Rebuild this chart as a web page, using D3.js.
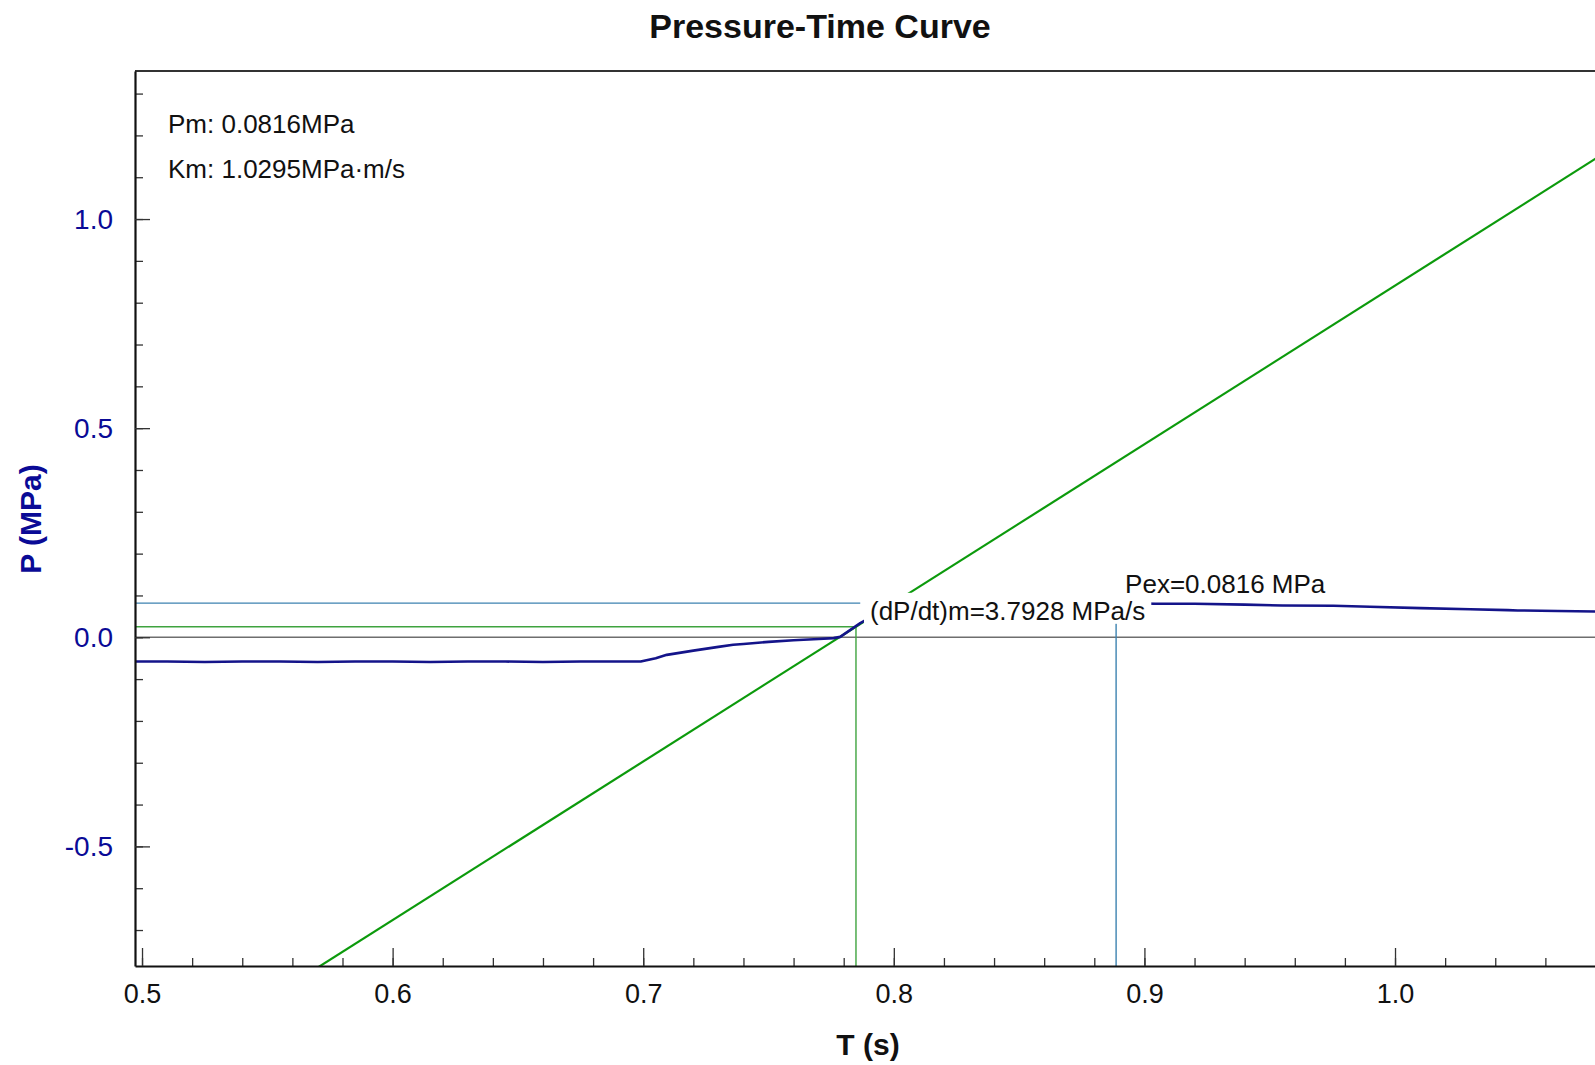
<!DOCTYPE html>
<html lang="en">
<head>
    <meta charset="UTF-8">
    <title>Pressure-Time Curve</title>
    <script src="https://d3js.org/d3.v7.min.js"></script>
    <style>
        body {
            margin: 0;
            background: #fff;
            font-family: "Liberation Sans", Arial, sans-serif;
        }
        svg {
            display: block;
        }
    </style>
</head>
<body>
    <svg width="1595" height="1065"></svg>

    <script>
        // pressure trace (time in s, pressure in MPa)
        const timeS = [0.4972, 0.51, 0.525, 0.54, 0.555, 0.57, 0.585, 0.60, 0.615, 0.63, 0.645, 0.66, 0.675, 0.69,
            0.699, 0.705, 0.7094, 0.72, 0.73, 0.7359, 0.74, 0.75, 0.76, 0.77, 0.776, 0.7786, 0.7866,
            0.79, 0.80, 0.82, 0.85, 0.8887, 0.9044, 0.92, 0.94, 0.955, 0.9755, 0.99, 1.0102, 1.03, 1.045, 1.049, 1.065, 1.0802];
        const pressureMPa = [-0.058, -0.058, -0.059, -0.058, -0.058, -0.059, -0.058, -0.058, -0.059, -0.058, -0.058, -0.059, -0.058, -0.058,
            -0.058, -0.050, -0.042, -0.032, -0.023, -0.018, -0.016, -0.011, -0.007, -0.004, -0.002, 0.001, 0.034,
            0.045, 0.065, 0.076, 0.080, 0.0816, 0.0801, 0.080, 0.078, 0.076, 0.0753, 0.073, 0.0698, 0.067, 0.065, 0.0641, 0.063, 0.0617];

        // tangent / maximum markers
        const tangentT = 0.7849, tangentP = 0.025, tangentSlope = 3.7928;
        const pexT = 0.8887, pexP = 0.0816, pexLineEndT = 0.7866;

        const xTicksMajor = [0.5, 0.6, 0.7, 0.8, 0.9, 1.0];
        const xTicksMinor = d3.range(25, 55).map(d => d * 0.02);
        const yTicksMajor = [-0.5, 0.0, 0.5, 1.0];
        const yTicksMinor = d3.range(-7, 14).map(d => d * 0.1);

        const infoLines = ["Pm: 0.0816MPa", "Km: 1.0295MPa\u00b7m/s"];
        const slopeLabel = "(dP/dt)m=3.7928 MPa/s";
        const pexLabel = "Pex=0.0816 MPa";

        const svg = d3.select("svg");
        const font = '"Liberation Sans", Arial, sans-serif';
        const fmt = d => d.toFixed(1);

        const plot = { left: 135, right: 1596, top: 71, bottom: 966 };

        const x = d3.scaleLinear().domain([0.4972, 1.0802]).range([plot.left, plot.right]);
        const y = d3.scaleLinear().domain([-0.786, 1.354]).range([plot.bottom, plot.top]);

        svg.append("defs").append("clipPath").attr("id", "clip")
            .append("rect")
            .attr("x", plot.left).attr("y", plot.top)
            .attr("width", plot.right - plot.left).attr("height", plot.bottom - plot.top);

        const g = svg.append("g").attr("clip-path", "url(#clip)");
        const [t0, t1] = x.domain();
        const [p0] = y.domain();

        // zero line
        g.append("line")
            .attr("x1", x(t0)).attr("x2", x(t1))
            .attr("y1", y(0)).attr("y2", y(0))
            .attr("stroke", "#6e6e6e").attr("stroke-width", 1.5);

        // marker lines
        const thin = (x1, y1, x2, y2, color) => g.append("line")
            .attr("x1", x1).attr("y1", y1).attr("x2", x2).attr("y2", y2)
            .attr("stroke", color).attr("stroke-width", 1.4);

        thin(x(t0), y(pexP), x(pexLineEndT), y(pexP), "#3c82b0");
        thin(x(pexT), y(pexP), x(pexT), y(p0), "#3c82b0");
        thin(x(t0), y(tangentP), x(tangentT), y(tangentP), "#3fa33f");
        thin(x(tangentT), y(tangentP), x(tangentT), y(p0), "#3fa33f");

        // tangent line
        const tangentAt = t => tangentP + tangentSlope * (t - tangentT);
        g.append("line")
            .attr("x1", x(0.5)).attr("y1", y(tangentAt(0.5)))
            .attr("x2", x(t1)).attr("y2", y(tangentAt(t1)))
            .attr("stroke", "#0c9a0c").attr("stroke-width", 2.2);

        // pressure curve
        const data = timeS.map((t, i) => [t, pressureMPa[i]]);
        g.append("path")
            .datum(data)
            .attr("fill", "none")
            .attr("stroke", "#14148a")
            .attr("stroke-width", 2.6)
            .attr("stroke-linejoin", "round")
            .attr("d", d3.line().x(d => x(d[0])).y(d => y(d[1])));

        // labels with white background
        function boxedLabel(text, xPos, yPos, padTop, padBottom) {
            const lg = svg.append("g");
            const bg = lg.append("rect").attr("fill", "#fff");
            const t = lg.append("text")
                .attr("x", xPos).attr("y", yPos)
                .attr("font-family", font).attr("font-size", 26)
                .attr("fill", "#111")
                .text(text);
            const bb = t.node().getBBox();
            bg.attr("x", bb.x - 6).attr("y", bb.y - padTop)
                .attr("width", bb.width + 12).attr("height", bb.height + padTop + padBottom);
        }
        boxedLabel(slopeLabel, x(tangentT) + 14, y(tangentP) - 7, 3, -2);
        boxedLabel(pexLabel, x(pexT) + 9, y(pexP) - 10, -2, -4);

        // info text
        svg.selectAll(".info")
            .data(infoLines)
            .enter().append("text")
            .attr("class", "info")
            .attr("x", 168)
            .attr("y", (d, i) => 133 + i * 45)
            .attr("font-family", font).attr("font-size", 26)
            .attr("fill", "#111")
            .text(d => d);

        // frame top
        svg.append("line")
            .attr("x1", plot.left).attr("x2", plot.right)
            .attr("y1", plot.top).attr("y2", plot.top)
            .attr("stroke", "#333").attr("stroke-width", 2);

        // x axis
        const xMinor = svg.append("g")
            .attr("transform", `translate(0,${plot.bottom})`)
            .call(d3.axisBottom(x).tickValues(xTicksMinor).tickSize(-8).tickFormat(""));
        xMinor.select(".domain").remove();
        xMinor.selectAll("line").attr("stroke", "#333").attr("stroke-width", 1.3);

        const xAxis = svg.append("g")
            .attr("transform", `translate(0,${plot.bottom})`)
            .call(d3.axisBottom(x).tickValues(xTicksMajor).tickSize(-18).tickSizeOuter(0)
                .tickPadding(18).tickFormat(fmt));
        xAxis.select(".domain").attr("stroke", "#111").attr("stroke-width", 2.2);
        xAxis.selectAll("line").attr("stroke", "#333").attr("stroke-width", 1.3);
        xAxis.selectAll("text").attr("font-family", font).attr("font-size", 27).attr("fill", "#111");

        // y axis
        const yMinor = svg.append("g")
            .attr("transform", `translate(${plot.left},0)`)
            .call(d3.axisLeft(y).tickValues(yTicksMinor).tickSize(-8).tickFormat(""));
        yMinor.select(".domain").remove();
        yMinor.selectAll("line").attr("stroke", "#333").attr("stroke-width", 1.3);

        const yAxis = svg.append("g")
            .attr("transform", `translate(${plot.left},0)`)
            .call(d3.axisLeft(y).tickValues(yTicksMajor).tickSize(-15).tickSizeOuter(0)
                .tickPadding(22).tickFormat(fmt));
        yAxis.select(".domain").attr("stroke", "#111").attr("stroke-width", 2.2);
        yAxis.selectAll("line").attr("stroke", "#333").attr("stroke-width", 1.3);
        yAxis.selectAll("text").attr("font-family", font).attr("font-size", 28).attr("fill", "#0a0a96");

        // titles
        svg.append("text")
            .attr("x", 820).attr("y", 38)
            .attr("text-anchor", "middle")
            .attr("font-family", font).attr("font-size", 34).attr("font-weight", "bold")
            .attr("fill", "#111")
            .text("Pressure-Time Curve");

        svg.append("text")
            .attr("x", 868).attr("y", 1055)
            .attr("text-anchor", "middle")
            .attr("font-family", font).attr("font-size", 30).attr("font-weight", "bold")
            .attr("fill", "#111")
            .text("T (s)");

        svg.append("text")
            .attr("transform", "translate(41,519) rotate(-90)")
            .attr("text-anchor", "middle")
            .attr("font-family", font).attr("font-size", 30).attr("font-weight", "bold")
            .attr("fill", "#0a0a96")
            .text("P (MPa)");
    </script>
</body>
</html>
